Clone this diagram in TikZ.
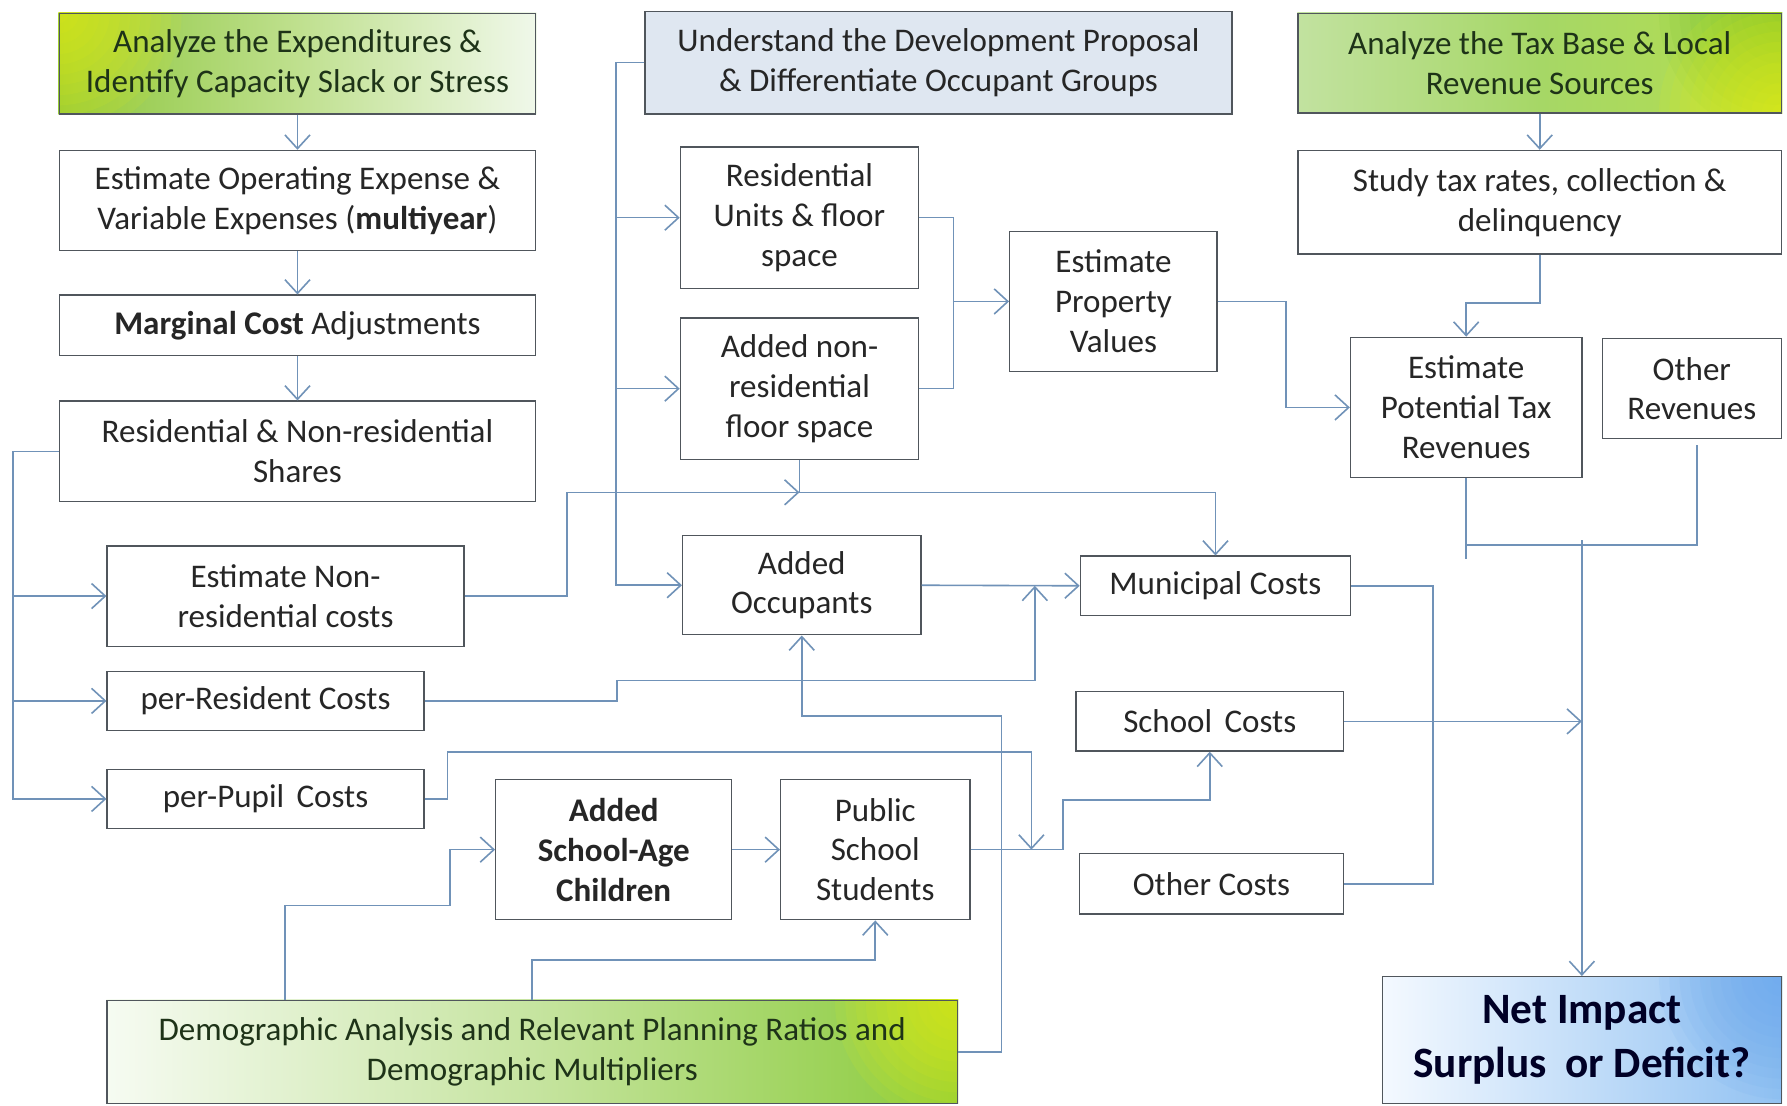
\documentclass[tikz,border=0pt]{standalone}
\usepackage{fontspec}
\setmainfont{Carlito}
\usetikzlibrary{arrows.meta}

\definecolor{linkblue}{HTML}{7092B8}
\definecolor{boxgray}{HTML}{50565C}
\definecolor{txt}{HTML}{262626}
\definecolor{greentxt}{HTML}{1E3318}
\definecolor{paleblue}{HTML}{DFE7F1}
% gradient colours
\definecolor{gA}{HTML}{8CC63C}
\definecolor{gAm}{HTML}{BFE08E}
\definecolor{gAr}{HTML}{F0F8EA}
\definecolor{gCl}{HTML}{C2E2A0}
\definecolor{gCm}{HTML}{A6D766}
\definecolor{gCr}{HTML}{B4DE4E}
\definecolor{gDl}{HTML}{F6FBF2}
\definecolor{gDm}{HTML}{C6E4A0}
\definecolor{gDr}{HTML}{8ACB3A}
\definecolor{glowyel}{HTML}{E8F014}
\definecolor{glowgrn}{HTML}{74C02C}
\definecolor{bEl}{HTML}{F4F9FF}
\definecolor{bEr}{HTML}{92C2F2}
\definecolor{bEg}{HTML}{6AA8EE}

\pgfdeclarelayer{fills}
\pgfsetlayers{fills,main}

% shaded backdrop of a node: #1 node, #2 shading options
\newcommand{\boxshade}[2]{%
  \begin{pgfonlayer}{fills}
    \shade[#2] (#1.south west) rectangle (#1.north east);
  \end{pgfonlayer}}
% soft glow at one anchor of a node: #1 node, #2 anchor, #3 colour
\newcommand{\boxglow}[3]{%
  \begin{pgfonlayer}{fills}
    \begin{scope}
      \clip (#1.south west) rectangle (#1.north east);
      \foreach \r in {9,18,...,108}
        {\fill[#3, opacity=0.1] (#1.#2) circle (\r pt);}
    \end{scope}
  \end{pgfonlayer}}

\begin{document}
\begin{tikzpicture}[x=1pt,y=-1pt,
  box/.style={draw=boxgray, line width=1.2pt, align=center, text=txt, inner sep=0pt,
    font=\fontsize{29}{35}\selectfont},
  greenbox/.style={box, text=greentxt},
  line/.style={draw=linkblue, line width=1.4pt},
  arr/.style={line, -{Straight Barb[length=12pt,width=22pt,line width=1.4pt]}},
]
\begin{pgfonlayer}{fills}
\fill[white] (0,0) rectangle (1568,970);
\end{pgfonlayer}
\useasboundingbox (0,0) rectangle (1568,970);

% ---- expenditure column ----
\node[greenbox, minimum width=418pt, minimum height=88pt] (A1) at (261,56)
  {Analyze the Expenditures \&\\Identify Capacity Slack or Stress};
\node[box, minimum width=418pt, minimum height=88pt] (A2) at (261,176)
  {Estimate Operating Expense \&\\Variable Expenses (\textbf{multiyear})};
\node[box, minimum width=418pt, minimum height=53pt] (A3) at (261,285.5)
  {\textbf{Marginal Cost} Adjustments};
\node[box, minimum width=418pt, minimum height=88pt] (A4) at (261,396)
  {Residential \& Non-residential\\Shares};

% ---- development column ----
\node[box, fill=paleblue, minimum width=515pt, minimum height=90pt] (B1) at (823.5,55)
  {Understand the Development Proposal\\\& Differentiate Occupant Groups};
\node[box, minimum width=209pt, minimum height=124pt] (B2) at (701.5,191)
  {Residential\\Units \& floor\\space};
\node[box, minimum width=209pt, minimum height=124pt] (B3) at (701.5,341)
  {Added non-\\residential\\floor space};
\node[box, minimum width=182pt, minimum height=123pt] (B4) at (977,264.5)
  {Estimate\\Property\\Values};
\node[box, minimum width=209pt, minimum height=87pt] (B5) at (703.5,513.5)
  {Added\\Occupants};
\node[box, minimum width=237pt, minimum height=52pt] (B6) at (1066.5,514)
  {Municipal Costs};

% ---- revenue column ----
\node[greenbox, minimum width=424pt, minimum height=87pt] (C1) at (1351,55.5)
  {Analyze the Tax Base \& Local\\Revenue Sources};
\node[box, minimum width=424pt, minimum height=91pt] (C2) at (1351,177.5)
  {Study tax rates, collection \&\\delinquency};
\node[box, minimum width=203pt, minimum height=123pt] (C3) at (1286.5,357.5)
  {Estimate\\Potential Tax\\Revenues};
\node[box, minimum width=157pt, minimum height=88pt] (C4) at (1484.5,341)
  {Other\\Revenues};

% ---- cost estimates ----
\node[box, minimum width=313pt, minimum height=88pt] (D1) at (250.5,523)
  {Estimate Non-\\residential costs};
\node[box, minimum width=278pt, minimum height=52pt] (D2) at (233,615)
  {per-Resident Costs};
\node[box, minimum width=278pt, minimum height=52pt] (D3) at (233,701)
  {per-Pupil\hspace{0.15em} Costs};
\node[box, minimum width=207pt, minimum height=123pt, font=\fontsize{29}{35}\selectfont\bfseries] (D4) at (538.5,745.5)
  {Added\\School-Age\\Children};
\node[box, minimum width=166pt, minimum height=123pt] (D5) at (768,745.5)
  {Public\\School\\Students};
\node[box, minimum width=235pt, minimum height=52pt] (D6) at (1061.5,633)
  {School\hspace{0.15em} Costs};
\node[box, minimum width=232pt, minimum height=53pt] (D7) at (1063,775.5)
  {Other Costs};
\node[greenbox, minimum width=746pt, minimum height=90pt] (D8) at (467,923)
  {Demographic Analysis and Relevant Planning Ratios and\\Demographic Multipliers};

% ---- result ----
\node[box, minimum width=350pt, minimum height=111pt,
  text=black!85!blue, font=\fontsize{38}{47}\selectfont\bfseries] (E1) at (1388,912.5)
  {Net Impact\\Surplus\hspace{0.2em} or Deficit?};

% ---- gradient backdrops ----
\boxshade{A1}{left color=gA, right color=gAr, middle color=gAm}
\boxglow{A1}{north west}{glowyel}
\boxshade{C1}{left color=gCl, right color=gCr, middle color=gCm}
\boxglow{C1}{north east}{glowgrn}
\boxglow{C1}{south east}{glowyel}
\boxshade{D8}{left color=gDl, right color=gDr, middle color=gDm}
\boxglow{D8}{north east}{glowyel}
\boxshade{E1}{left color=bEl, right color=bEr}
\boxglow{E1}{north east}{bEg}

% ---- junction points ----
\coordinate (J1) at (701.5,432);
\coordinate (J2) at (908,514);
\coordinate (J3) at (905,745.5);
\coordinate (J4) at (1388,633);
\coordinate (R1) at (1388,474);
\coordinate (R2) at (1286.5,478);
\coordinate (P1) at (836,264.5);

% ---- expenditure chain ----
\draw[arr] (A1) -- (A2);
\draw[arr] (A2) -- (A3);
\draw[arr] (A3) -- (A4);
\draw[arr] (A4.west) -- ++(-40,0) |- (D1.west);
\draw[arr] (A4.west) -- ++(-40,0) |- (D2.west);
\draw[arr] (A4.west) -- ++(-40,0) |- (D3.west);

% ---- development chain ----
\draw[arr] (B1.west) -- ++(-25,0) |- (B2.west);
\draw[arr] (B1.west) -- ++(-25,0) |- (B3.west);
\draw[arr] (B1.west) -- ++(-25,0) |- (B5.west);
\draw[line] (B2.east) -- ++(30,0) |- (B3.east);
\draw[arr] (P1) -- (B4.west);
\draw[arr] (B4.east) -- ++(60,0) |- (C3.west);

% ---- revenue chain ----
\draw[arr] (C1) -- (C2);
\draw[arr] (C2.south) -- ++(0,42) -| (C3.north);
\draw[line] (C3.south) -- ++(0,71);
\draw[line, shorten <=5pt] ([xshift=4.5pt]C4.south) |- (R2);
\draw[arr] (R1) -- (E1.north);

% ---- costs ----
\draw[arr] (D1.east) -- ++(90,0) |- (J1);
\draw[line] (B3.south) -- (J1);
\draw[arr] (J1) -| (B6.north);
\draw[arr] (B5.east) -- (B6.west);
\draw[arr] (D2.east) -| ++(169,-18) -| (J2);
\draw[arr] (D3.east) -| ++(20,-41) -| (J3);
\draw[arr] (D4.east) -- (D5.west);
\draw[arr] (D5.east) -| ++(81,-43.5) -| (D6.south);
\draw[arr] (D8.east) -| ++(38,-295) -| (B5.south);
\draw[arr] ([xshift=-217pt]D8.north) |- ++(145,-83) |- (D4.west);
\draw[arr] (D8.north) -- ++(0,-35) -| (D5.south);
\draw[line] (B6.east) -- ++(72,0) |- (D7.east);
\draw[arr] (D6.east) -- (J4);
\end{tikzpicture}
\end{document}
